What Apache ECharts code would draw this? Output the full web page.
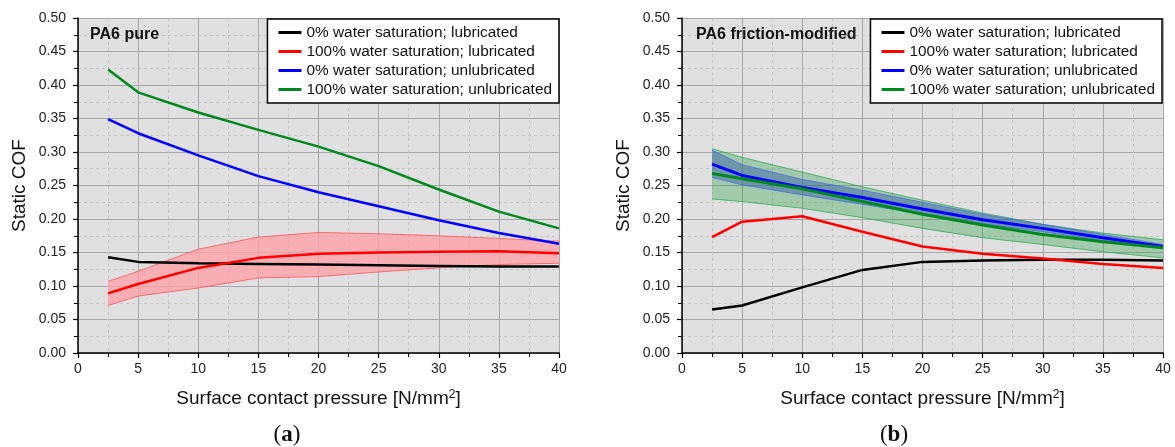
<!DOCTYPE html>
<html>
<head>
<meta charset="utf-8">
<script src="https://cdn.jsdelivr.net/npm/echarts@6/dist/echarts.min.js"></script>
<style>
  html, body { margin: 0; padding: 0; background: #fff; }
  #chart { width: 1175px; height: 447px; }
</style>
</head>
<body>
<div id="chart"></div>
<script>
// pressure steps [N/mm2]
const pressure = [2.5, 5, 10, 15, 20, 25, 30, 35, 40];
const seriesNames = [
  '0% water saturation; lubricated',
  '100% water saturation; lubricated',
  '0% water saturation; unlubricated',
  '100% water saturation; unlubricated'
];

// (a) PA6 pure
const aDryLub = [0.143, 0.136, 0.134, 0.133, 0.132, 0.131, 0.130, 0.129, 0.129];
const aWetLub = [0.089, 0.103, 0.127, 0.142, 0.148, 0.150, 0.151, 0.152, 0.149];
const aWetLubHi = [0.107, 0.122, 0.155, 0.173, 0.180, 0.178, 0.175, 0.171, 0.167];
const aWetLubLo = [0.071, 0.085, 0.097, 0.112, 0.114, 0.121, 0.127, 0.132, 0.134];
const aDryUnlub = [0.349, 0.328, 0.295, 0.264, 0.240, 0.219, 0.198, 0.179, 0.163];
const aWetUnlub = [0.423, 0.389, 0.359, 0.333, 0.308, 0.279, 0.244, 0.211, 0.186];

// (b) PA6 friction-modified
const bDryLub = [0.065, 0.071, 0.098, 0.124, 0.136, 0.138, 0.139, 0.139, 0.138];
const bWetLub = [0.173, 0.196, 0.204, 0.181, 0.159, 0.148, 0.141, 0.133, 0.127];
const bDryUnlub = [0.282, 0.265, 0.247, 0.232, 0.215, 0.199, 0.186, 0.172, 0.159];
const bDryUnlubHi = [0.303, 0.281, 0.259, 0.243, 0.225, 0.207, 0.192, 0.177, 0.162];
const bDryUnlubLo = [0.262, 0.251, 0.236, 0.222, 0.207, 0.193, 0.181, 0.168, 0.156];
const bWetUnlub = [0.268, 0.260, 0.245, 0.226, 0.207, 0.191, 0.177, 0.166, 0.157];
const bWetUnlubHi = [0.305, 0.292, 0.270, 0.248, 0.228, 0.209, 0.192, 0.179, 0.169];
const bWetUnlubLo = [0.230, 0.226, 0.216, 0.202, 0.186, 0.172, 0.162, 0.151, 0.142];

const colors = ['#000000', '#ff0000', '#0000ff', '#008a1e'];
const font = 'Liberation Sans, Arial, sans-serif';

function pairs(ys) {
  return pressure.map((x, i) => [x, ys[i]]);
}

function line(name, ys, color, gi, width) {
  return {
    name: name, type: 'line', xAxisIndex: gi, yAxisIndex: gi,
    data: pairs(ys), showSymbol: false, symbol: 'none',
    lineStyle: { color: color, width: width || 2.5 },
    itemStyle: { color: color },
    z: 5
  };
}

// shaded min/max band, drawn as one polygon through the axis scales
function band(id, lo, hi, color, fill, gi) {
  return {
    name: id, type: 'custom', xAxisIndex: gi, yAxisIndex: gi, z: 3,
    data: pressure.map((x, i) => [x, lo[i], hi[i]]),
    encode: { x: 0, y: [1, 2] },
    renderItem: function (params, api) {
      if (params.dataIndex !== 0) return null;
      const low = pressure.map((x, i) => api.coord([x, lo[i]]));
      const high = pressure.map((x, i) => api.coord([x, hi[i]]));
      const poly = low.concat(high.slice().reverse());
      return {
        type: 'group',
        children: [
          { type: 'polygon', shape: { points: poly }, style: { fill: fill, stroke: null } },
          { type: 'polyline', shape: { points: low }, style: { stroke: color, lineWidth: 0.8, fill: null } },
          { type: 'polyline', shape: { points: high }, style: { stroke: color, lineWidth: 0.8, fill: null } }
        ]
      };
    }
  };
}

function xAxis(gi) {
  return {
    type: 'value', gridIndex: gi, min: 0, max: 40, interval: 5,
    name: 'Surface contact pressure [N/mm{sup|2}]',
    nameLocation: 'middle', nameGap: 36,
    nameTextStyle: {
      fontSize: 19, fontFamily: font, color: '#111',
      rich: { sup: { fontSize: 12, verticalAlign: 'top', padding: [0, 0, 8, 0], fontFamily: font, color: '#111' } }
    },
    axisLine: { lineStyle: { color: '#000', width: 1.5 } },
    axisTick: { show: true, length: 5, lineStyle: { color: '#000', width: 1.2 } },
    minorTick: { show: true, splitNumber: 2, length: 4, lineStyle: { color: '#000', width: 1 } },
    axisLabel: { fontSize: 14, fontFamily: font, color: '#222', margin: 9 },
    splitLine: { show: true, lineStyle: { color: '#a8a8a8', width: 1 } },
    minorSplitLine: { show: true, lineStyle: { color: '#c6c6c6', width: 1, type: [3, 3] } }
  };
}

function yAxis(gi) {
  return {
    type: 'value', gridIndex: gi, min: 0, max: 0.5, interval: 0.05,
    name: 'Static COF', nameLocation: 'middle', nameGap: 49,
    nameTextStyle: { fontSize: 19, fontFamily: font, color: '#111' },
    axisLine: { show: true, lineStyle: { color: '#000', width: 1.5 } },
    axisTick: { show: true, length: 5, lineStyle: { color: '#000', width: 1.2 } },
    minorTick: { show: true, splitNumber: 2, length: 4, lineStyle: { color: '#000', width: 1 } },
    axisLabel: { fontSize: 14, fontFamily: font, color: '#222', margin: 12, formatter: v => v.toFixed(2) },
    splitLine: { show: true, lineStyle: { color: '#a8a8a8', width: 1 } },
    minorSplitLine: { show: true, lineStyle: { color: '#c6c6c6', width: 1, type: [3, 3] } }
  };
}

function legend(right) {
  return {
    right: right, top: 19, orient: 'vertical', data: seriesNames,
    backgroundColor: '#fff', borderColor: '#000', borderWidth: 1.5,
    padding: [6, 7, 6, 11], itemGap: 4, itemWidth: 23, itemHeight: 3, icon: 'rect',
    textStyle: { fontSize: 15.4, fontFamily: font, color: '#111' },
    z: 10
  };
}

const chart = echarts.init(document.getElementById('chart'));

const option = {
  animation: false,
  backgroundColor: '#fff',
  grid: [
    { left: 78, top: 18, width: 481, height: 335, show: true, backgroundColor: '#e0e0e0', borderWidth: 0 },
    { left: 682, top: 18, width: 481, height: 335, show: true, backgroundColor: '#e0e0e0', borderWidth: 0 }
  ],
  xAxis: [xAxis(0), xAxis(1)],
  yAxis: [yAxis(0), yAxis(1)],
  legend: [legend(616), legend(13)],
  graphic: [
    { type: 'text', left: 90, top: 27, style: { text: 'PA6 pure', font: 'bold 16px ' + font, fill: '#111' }, z: 10 },
    { type: 'text', left: 696, top: 27, style: { text: 'PA6 friction-modified', font: 'bold 16px ' + font, fill: '#111' }, z: 10 },
    {
      type: 'text', x: 287, y: 435,
      style: {
        text: '{n|(}{b|a}{n|)}', align: 'center', verticalAlign: 'middle',
        rich: {
          n: { fontSize: 23, fontFamily: 'Liberation Serif, serif', fill: '#111' },
          b: { fontSize: 23, fontFamily: 'Liberation Serif, serif', fontWeight: 'bold', fill: '#111' }
        }
      }
    },
    {
      type: 'text', x: 894, y: 435,
      style: {
        text: '{n|(}{b|b}{n|)}', align: 'center', verticalAlign: 'middle',
        rich: {
          n: { fontSize: 23, fontFamily: 'Liberation Serif, serif', fill: '#111' },
          b: { fontSize: 23, fontFamily: 'Liberation Serif, serif', fontWeight: 'bold', fill: '#111' }
        }
      }
    }
  ],
  series: [
    band('aRed', aWetLubLo, aWetLubHi, 'rgba(255,60,60,0.8)', 'rgba(255,160,165,0.77)', 0),
    line(seriesNames[0], aDryLub, colors[0], 0),
    line(seriesNames[1], aWetLub, colors[1], 0),
    line(seriesNames[2], aDryUnlub, colors[2], 0),
    line(seriesNames[3], aWetUnlub, colors[3], 0),

    band('bGreen', bWetUnlubLo, bWetUnlubHi, 'rgba(30,170,80,0.9)', 'rgba(40,160,70,0.35)', 1),
    band('bBlue', bDryUnlubLo, bDryUnlubHi, 'rgba(70,100,240,0.9)', 'rgba(30,70,170,0.38)', 1),
    line(seriesNames[0], bDryLub, colors[0], 1),
    line(seriesNames[1], bWetLub, colors[1], 1),
    line(seriesNames[2], bDryUnlub, colors[2], 1, 3),
    line(seriesNames[3], bWetUnlub, colors[3], 1, 3)
  ]
};

chart.setOption(option);
</script>
</body>
</html>
